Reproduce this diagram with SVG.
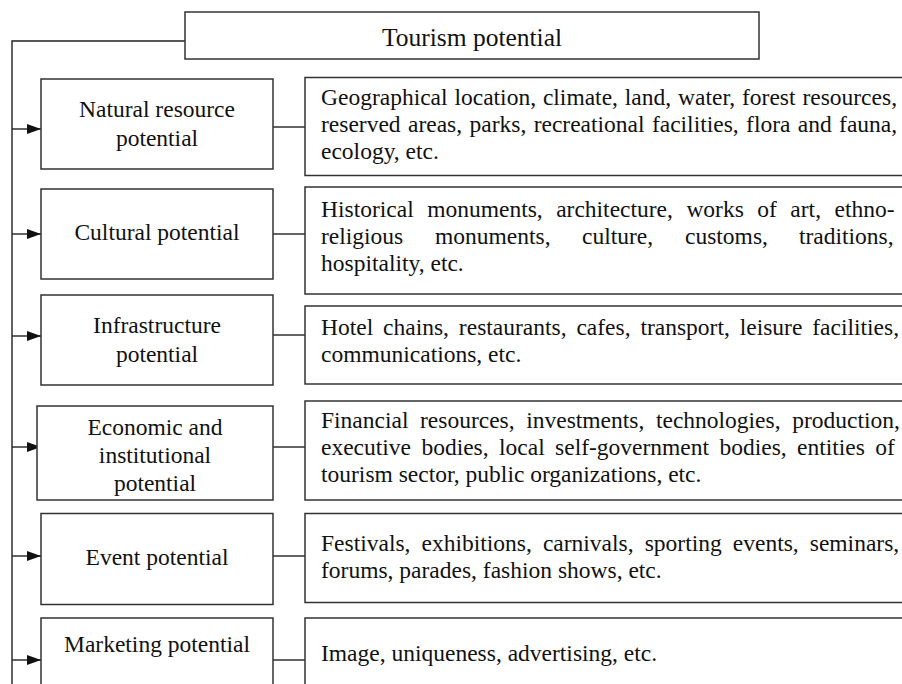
<svg xmlns="http://www.w3.org/2000/svg" width="902" height="684" viewBox="0 0 902 684">
<defs>
<marker id="ah" viewBox="0 0 14 10" refX="14" refY="5" markerWidth="14" markerHeight="10" markerUnits="userSpaceOnUse" orient="auto">
<path d="M0,0 L14,5 L0,10 Z" fill="#111"/>
</marker>
<style>
.box{fill:#fff;stroke:#333;stroke-width:1.5}
.ln{fill:none;stroke:#222;stroke-width:1.4}
text{font-family:"Liberation Serif","Times New Roman",serif;font-size:23.5px;fill:#111}
.c{text-anchor:middle}
.t{font-size:25.5px}
</style>
</defs>
<rect width="902" height="684" fill="#fff"/>
<g id="connectors">
<polyline class="ln" points="185,41 12,41 12,684"/>
<line class="ln" x1="12" y1="129" x2="41" y2="129" marker-end="url(#ah)"/>
<line class="ln" x1="12" y1="234" x2="41" y2="234" marker-end="url(#ah)"/>
<line class="ln" x1="12" y1="336" x2="41" y2="336" marker-end="url(#ah)"/>
<line class="ln" x1="12" y1="447" x2="41" y2="447" marker-end="url(#ah)"/>
<line class="ln" x1="12" y1="556" x2="41" y2="556" marker-end="url(#ah)"/>
<line class="ln" x1="12" y1="660" x2="41" y2="660" marker-end="url(#ah)"/>
<line class="ln" x1="273" y1="127" x2="305" y2="127"/>
<line class="ln" x1="273" y1="234" x2="305" y2="234"/>
<line class="ln" x1="273" y1="335" x2="305" y2="335"/>
<line class="ln" x1="273" y1="447" x2="305" y2="447"/>
<line class="ln" x1="273" y1="556" x2="305" y2="556"/>
<line class="ln" x1="273" y1="660" x2="305" y2="660"/>
</g>
<g id="tourism">
<rect class="box" x="185" y="12" width="574" height="47"/>
<text class="c t" x="472" y="46">Tourism potential</text>
</g>
<g id="natural">
<rect class="box" x="41" y="79" width="232" height="90"/>
<text class="c" x="157" y="117">Natural resource</text>
<text class="c" x="157" y="146">potential</text>
</g>
<g id="natural-detail">
<rect class="box" x="305" y="77.5" width="620" height="98"/>
<text x="321" y="105" style="word-spacing:1px">Geographical location, climate, land, water, forest resources,</text>
<text x="321" y="132" style="word-spacing:1.5px">reserved areas, parks, recreational facilities, flora and fauna,</text>
<text x="321" y="159">ecology, etc.</text>
</g>
<g id="cultural">
<rect class="box" x="41" y="189" width="232" height="90"/>
<text class="c" x="157" y="240">Cultural potential</text>
</g>
<g id="cultural-detail">
<rect class="box" x="305" y="187" width="620" height="107"/>
<text x="321" y="217" style="word-spacing:7.6px">Historical monuments, architecture, works of art, ethno-</text>
<text y="244"><tspan x="321">religious</tspan><tspan x="435">monuments,</tspan><tspan x="582">culture,</tspan><tspan x="685">customs,</tspan><tspan x="799">traditions,</tspan></text>
<text x="321" y="271">hospitality, etc.</text>
</g>
<g id="infrastructure">
<rect class="box" x="41" y="295" width="232" height="90"/>
<text class="c" x="157" y="333">Infrastructure</text>
<text class="c" x="157" y="362">potential</text>
</g>
<g id="infrastructure-detail">
<rect class="box" x="305" y="306" width="620" height="78"/>
<text x="321" y="335" style="word-spacing:4px">Hotel chains, restaurants, cafes, transport, leisure facilities,</text>
<text x="321" y="362">communications, etc.</text>
</g>
<g id="economic">
<rect class="box" x="37" y="406" width="236" height="94"/>
<text class="c" x="155" y="435">Economic and</text>
<text class="c" x="155" y="463">institutional</text>
<text class="c" x="155" y="491">potential</text>
</g>
<g id="economic-detail">
<rect class="box" x="305" y="401" width="620" height="99"/>
<text x="321" y="428" style="word-spacing:5.7px">Financial resources, investments, technologies, production,</text>
<text x="321" y="455" style="word-spacing:4.5px">executive bodies, local self-government bodies, entities of</text>
<text x="321" y="482">tourism sector, public organizations, etc.</text>
</g>
<g id="event">
<rect class="box" x="41" y="513.5" width="232" height="91"/>
<text class="c" x="157" y="565">Event potential</text>
</g>
<g id="event-detail">
<rect class="box" x="305" y="513.5" width="620" height="89"/>
<text x="321" y="551" style="word-spacing:5.2px">Festivals, exhibitions, carnivals, sporting events, seminars,</text>
<text x="321" y="578">forums, parades, fashion shows, etc.</text>
</g>
<g id="marketing">
<rect class="box" x="41" y="618" width="232" height="90"/>
<text class="c" x="157" y="652">Marketing potential</text>
</g>
<g id="marketing-detail">
<rect class="box" x="305" y="618" width="620" height="90"/>
<text x="321" y="661">Image, uniqueness, advertising, etc.</text>
</g>
</svg>
